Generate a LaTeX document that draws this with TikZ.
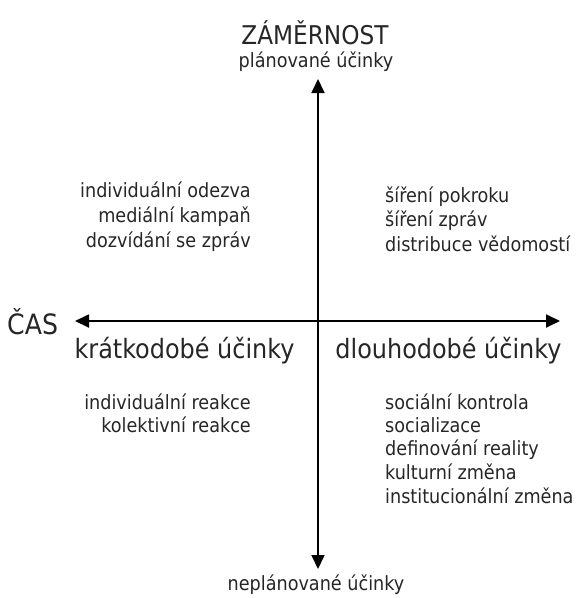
\documentclass[tikz,border=0pt]{standalone}
\usepackage{fontspec}
\setmainfont{DejaVu Sans Condensed}
\usetikzlibrary{arrows.meta}
\begin{document}
\begin{tikzpicture}[x=1pt,y=-1pt,
  axis/.style={line width=1.8pt,-{Triangle[length=14pt,width=13pt]}},
  item/.style={inner sep=0pt,font=\fontsize{19.6}{23}\selectfont,text=black!85},
  side/.style={inner sep=0pt,font=\fontsize{26.6}{31}\selectfont,text=black!85},
  head/.style={inner sep=0pt,font=\fontsize{25.8}{30}\selectfont,text=black!85}]
\useasboundingbox (0,0) rectangle (576,598);
% axes
\coordinate (c) at (318,321);
\coordinate (top) at (318,79);
\coordinate (bot) at (318,569);
\coordinate (lft) at (75,321);
\coordinate (rgt) at (560,321);
\draw[axis] (c) -- (top);
\draw[axis] (c) -- (bot);
\draw[axis] (c) -- (lft);
\draw[axis] (c) -- (rgt);
% axis captions
\node[head,anchor=base] (zam) at (315,44) {ZÁMĚRNOST};
\node[item,anchor=base] (plan) at (316,67) {plánované účinky};
\node[item,anchor=base] (neplan) at (316,590) {neplánované účinky};
\node[head,anchor=base west,font=\fontsize{28}{32}\selectfont] (cas) at (7,334) {ČAS};
\node[side,anchor=base] (kratko) at (184.5,358) {krátkodobé účinky};
\node[side,anchor=base] (dlouho) at (448.5,358) {dlouhodobé účinky};
% upper left
\node[item,anchor=base east] (ul1) at (251,197) {individuální odezva};
\node[item,anchor=base east] (ul2) at (251,222) {mediální kampaň};
\node[item,anchor=base east] (ul3) at (251,247) {dozvídání se zpráv};
% upper right
\node[item,anchor=base west] (ur1) at (385,202) {šíření pokroku};
\node[item,anchor=base west] (ur2) at (385,226) {šíření zpráv};
\node[item,anchor=base west] (ur3) at (385,251) {distribuce vědomostí};
% lower left
\node[item,anchor=base east] (ll1) at (251,409) {individuální reakce};
\node[item,anchor=base east] (ll2) at (251,432) {kolektivní reakce};
% lower right
\node[item,anchor=base west] (lr1) at (385,409) {sociální kontrola};
\node[item,anchor=base west] (lr2) at (385,432) {socializace};
\node[item,anchor=base west] (lr3) at (385,455) {definování reality};
\node[item,anchor=base west] (lr4) at (385,479) {kulturní změna};
\node[item,anchor=base west] (lr5) at (385,503) {institucionální změna};
\end{tikzpicture}
\end{document}
